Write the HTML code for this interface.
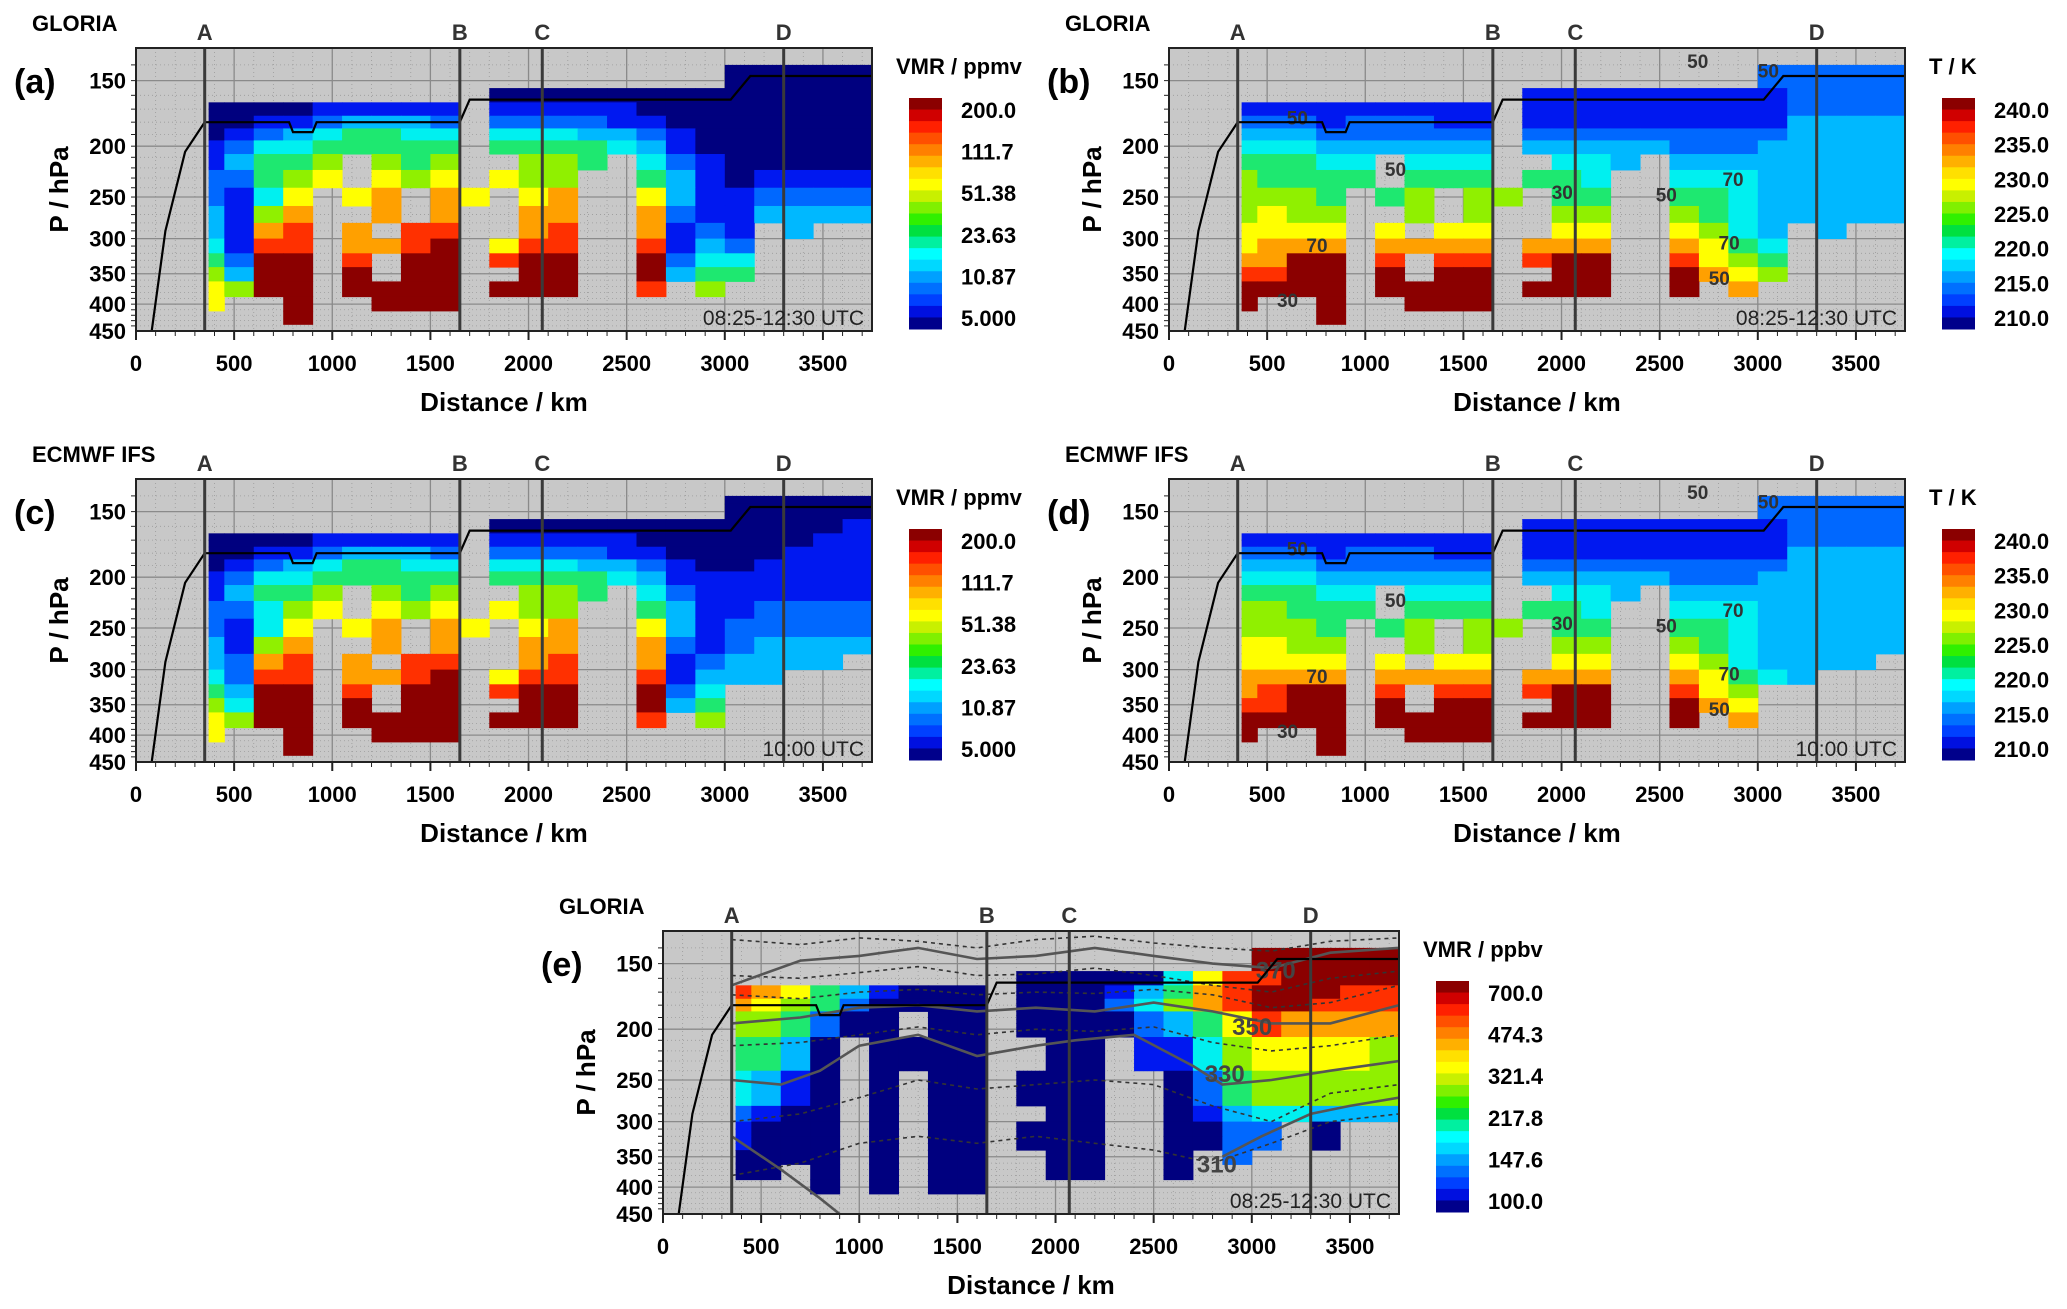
<!DOCTYPE html>
<html><head><meta charset="utf-8">
<style>
html,body{margin:0;padding:0;background:#fff;}
svg{display:block;font-family:"Liberation Sans",Arial,sans-serif;}
</style></head>
<body>
<svg id="fig" width="2067" height="1309" viewBox="0 0 2067 1309" xmlns="http://www.w3.org/2000/svg"></svg>
<script>
// ---------- data ----------
const rowPressTop = [140,145,155,165,175,185,195,207,222,240,260,280,300,320,340,362,387,412];
const rowPressBot = [145,155,165,175,185,195,207,222,240,260,280,300,320,340,362,387,412,437];
const colKm = 150; // bin width of distance columns
const h2oGloria = [
"....................00000",
"....................00000",
"............0000000000000",
"..000011111.1111100000000",
"..001123332.2222110000000",
"..012345544.4443321000000",
"..124455555.5555431000000",
"..13556.656..665.42100000",
"..22567.767.766..53101111",
"..2147.78.87.78..73112222",
"..3168..8.8..88..82113333",
"..3189.8.99..89..8121.3..",
"..4199.889a.799..9132....",
"..52aa.9.aa.9aa..a244....",
"..63aa.a.aa..aa..a355....",
"..76aa.aaaa.aaa..9.6.....",
"..7..a..aaa..............",
".....a..................."];
const h2oModel = [
"....................00000",
"....................00000",
"............0000000000001",
"..000011111.1111100000011",
"..001123332.2222110000111",
"..012345544.4443321001111",
"..124455555.5555431111111",
"..13556.656..665.42111111",
"..22467.767.766..53112222",
"..2147.78.87.78..73122222",
"..3168..8.8..88..82123333",
"..3289.8.99..89..8123333.",
"..4299.889a.799..91333...",
"..53aa.9.aa.9aa..a24.....",
"..64aa.a.aa..aa..a35.....",
"..76aa.aaaa.aaa..9.6.....",
"..7..a..aaa..............",
".....a..................."];
const tGloria = [
"....................22222",
"....................22222",
"............1111111112222",
"..111111111.1111111112222",
"..222122211.1111111113333",
"..333222222.2222222223333",
"..444333333.3333322233333",
"..55544.444..443.33333333",
"..65555.555.554..44433333",
"..6665.56.66.55..55433333",
"..6766..6.6..66..65433333",
"..7777.7.77..77..7643.3..",
"..7888.8888.888..8754....",
"..88aa.9.99.9aa..9765....",
"..99aa.a.aa..aa..a876....",
"..aaaa.aaaa.aaa..a.8.....",
"..a..a..aaa..............",
".....a..................."];
const tModel = [
"....................22222",
"....................22222",
"............1111111112222",
"..111111111.1111111112222",
"..222122211.1111111113333",
"..333222222.2222222223333",
"..444333333.3333322233333",
"..55544.444..443.33333333",
"..66555.555.554..44433333",
"..6665.56.66.55..55433333",
"..7766..6.6..66..65433333",
"..7777.7.77..77..7643333.",
"..8888.8888.888..87543...",
"..89aa.9.99.9aa..976.....",
"..99aa.a.aa..aa..a87.....",
"..aaaa.aaaa.aaa..a.8.....",
"..a..a..aaa..............",
".....a..................."];
const o3Gloria = [
"....................aaaaa",
"....................aaaaa",
"............000004799aaaa",
"..987531000.00013589aaa99",
"..876520000.00024689aa999",
"..665200.00.0000235798888",
"..665200.00.0000235798888",
"..5530.0000..00.114677776",
"..5530.0000..00.114677776",
"..4310.0.00.000..02566666",
"..4310.0.00.000..02566666",
"..2100.0.00..00..01344333",
"..1000.0.00.000..0022.0..",
"..1000.0.00.000..0022.0..",
"..0000.0.00..00..0.2.....",
"..00.0.0.00..00..0.......",
".....0.0.00..............",
"........................."];
const flightKm = [80,150,250,350,780,800,900,920,1650,1700,3030,3130,3750];
const flightP  = [450,290,205,180,180,188,188,180,180,163,163,147,147];
const markerNames = ["A","B","C","D"];
const markerKm = [350,1650,2070,3300];
const xTicks = [0,500,1000,1500,2000,2500,3000,3500];
const yTicks = [150,200,250,300,350,400,450];
const cbarH2O = ["200.0","111.7","51.38","23.63","10.87","5.000"];
const cbarT = ["240.0","235.0","230.0","225.0","220.0","215.0","210.0"];
const cbarO3 = ["700.0","474.3","321.4","217.8","147.6","100.0"];
const thKm1 = [350,700,1000,1300,1600,1900,2200,2500,2800,3100,3400,3750];
const thP1  = [165,148,145,140,147,145,140,145,150,153,143,140];
const thP2  = [195,190,182,180,185,182,185,178,185,195,195,180];
const thKm3 = [350,600,800,1000,1300,1600,1900,2100,2400,2700,2850,3100,3400,3750];
const thP3  = [250,255,240,215,205,225,215,210,205,235,255,250,240,230];
const thKm4 = [2850,3050,3300,3500,3750];
const thP4  = [350,320,290,280,270];
const thKm5 = [350,600,800,900];
const thP5  = [320,370,420,450];
const dashP = [[135,138,134,136,140,135,133,137,140,142,136,134],
               [158,160,156,152,158,157,153,158,165,170,160,155],
               [172,175,170,168,172,170,171,168,172,182,178,165],
               [215,212,205,198,205,200,202,198,212,220,215,205],
               [300,290,270,250,260,255,250,255,280,300,265,255],
               [380,360,330,320,330,320,330,340,360,330,300,290]];

const levelColors = ['#00007f','#0018f0','#0068ff','#00b8ff','#00f0f0','#1ee870','#90f000','#ffff00','#ffa000','#ff3000','#8b0000'];
const jetStops = ['#8b0000','#d00000','#ff2000','#ff5000','#ff8000','#ffb000','#ffe000','#ffff00','#c8f000','#80f000','#30f000','#00e040','#00f0a0','#00ffff','#00d8ff','#00a0ff','#0070ff','#0040ff','#0010e0','#00008b'];

// ---------- drawing ----------
const NS = "http://www.w3.org/2000/svg";
const svg = document.getElementById('fig');
function mk(tag, attrs, parent){
  const e = document.createElementNS(NS, tag);
  for (const k in attrs) e.setAttribute(k, attrs[k]);
  (parent||svg).appendChild(e);
  return e;
}
const PW = 736, PH = 283, PMIN = 130, PMAX = 450, KMAX = 3750;

function panel(L, T, grid, letter, source, cbTitle, cbLabels, timeText, contours){
  const g = mk('g', {});
  
  
  const xs = d => L + d / KMAX * PW;
  const ys = p => T + Math.log(p / PMIN) / Math.log(PMAX / PMIN) * PH;
  const bg = mk('rect', {x:L, y:T, width:PW, height:PH, fill:'#c8c8c8'}, g);
  
  
  for (let d = 100; d < KMAX; d += 100) mk('line', {x1:xs(d), x2:xs(d), y1:T, y2:T+PH, stroke:'#9a9a9a', 'stroke-width':0.8, 'stroke-dasharray':'1,3'}, g);
  for (let p = 140; p < PMAX; p += 10) mk('line', {x1:L, x2:L+PW, y1:ys(p), y2:ys(p), stroke:'#9a9a9a', 'stroke-width':0.8, 'stroke-dasharray':'1,3'}, g);
  for (const p of yTicks) mk('line', {x1:L, x2:L+PW, y1:ys(p), y2:ys(p), stroke:'#8a8a8a', 'stroke-width':1.3}, g);
  for (const d of xTicks) if (d>0) mk('line', {x1:xs(d), x2:xs(d), y1:T, y2:T+PH, stroke:'#8a8a8a', 'stroke-width':1.3}, g);
  const cells = mk('g', {}, g);
  
  
  grid.forEach((row, r) => {
    for (let c = 0; c < row.length; c++) {
      const ch = row[c];
      if (ch === '.') continue;
      const lv = parseInt(ch, 16);
      const x0 = xs(Math.max(c * colKm, 370)), x1 = xs((c + 1) * colKm);
      const rc = mk('rect', {x:x0, y:ys(rowPressTop[r]), width:x1 - x0 + 0.5, height:ys(rowPressBot[r]) - ys(rowPressTop[r]) + 0.5, fill:levelColors[lv]}, cells);
      
      
    }
  });
  if (contours) contours(g, xs, ys);
  let dstr = flightKm.map((k, i) => (i ? 'L' : 'M') + xs(k).toFixed(1) + ',' + ys(flightP[i]).toFixed(1)).join(' ');
  const fl = mk('path', {d:dstr, fill:'none', stroke:'#000', 'stroke-width':2.2}, g);
  
  
  markerKm.forEach((k, i) => {
    const ln = mk('line', {x1:xs(k), x2:xs(k), y1:T, y2:T+PH, stroke:'#3a3a3a', 'stroke-width':3}, g);
    
    
    const t = mk('text', {x:xs(k), y:T-8, 'text-anchor':'middle', 'font-size':22, 'font-weight':'bold', fill:'#333'}, g);
    t.textContent = markerNames[i];
    
    
  });
  mk('rect', {x:L, y:T, width:PW, height:PH, fill:'none', stroke:'#222', 'stroke-width':2}, g);
  for (const d of xTicks) {
    mk('line', {x1:xs(d), x2:xs(d), y1:T+PH, y2:T+PH+9, stroke:'#222', 'stroke-width':2}, g);
    const t = mk('text', {x:xs(d), y:T+PH+40, 'text-anchor':'middle', 'font-size':22, 'font-weight':'bold'}, g);
    t.textContent = d;
    
    
  }
  for (let d = 100; d < KMAX; d += 100) mk('line', {x1:xs(d), x2:xs(d), y1:T+PH, y2:T+PH+5, stroke:'#222', 'stroke-width':1}, g);
  for (let p = 140; p < PMAX; p += 10) mk('line', {x1:L-5, x2:L, y1:ys(p), y2:ys(p), stroke:'#222', 'stroke-width':1}, g);
  for (const p of yTicks) {
    const t = mk('text', {x:L-10, y:ys(p)+8, 'text-anchor':'end', 'font-size':22, 'font-weight':'bold'}, g);
    t.textContent = p;
    
    
  }
  const xt = mk('text', {x:L+PW/2, y:T+PH+80, 'text-anchor':'middle', 'font-size':26, 'font-weight':'bold'}, g);
  xt.textContent = 'Distance / km';
  
  
  const yt = mk('text', {x:0, y:0, 'text-anchor':'middle', 'font-size':26, 'font-weight':'bold', transform:`translate(${L-68},${T+PH/2}) rotate(-90)`}, g);
  yt.textContent = 'P / hPa';
  
  
  const st = mk('text', {x:L-104, y:T-17, 'font-size':22, 'font-weight':'bold'}, g);
  st.textContent = source;
  
  
  const pl = mk('text', {x:L-122, y:T+45, 'font-size':34, 'font-weight':'bold'}, g);
  pl.textContent = '(' + letter + ')';
  
  
  const tt = mk('text', {x:L+PW-8, y:T+PH-6, 'text-anchor':'end', 'font-size':21, fill:'#222'}, g);
  tt.textContent = timeText;
  
  
  const cx = L + 773, cy0 = T + 50, cy1 = T + 281, cw = 33;
  const cb = mk('g', {}, g);
  
  
  const n = jetStops.length, bh = (cy1 - cy0) / n;
  jetStops.forEach((c, i) => mk('rect', {x:cx, y:cy0 + i*bh, width:cw, height:bh + 0.5, fill:c}, cb));
  const ct = mk('text', {x:cx - 13, y:T+26, 'font-size':22, 'font-weight':'bold'}, g);
  ct.textContent = cbTitle;
  
  
  const ly0 = T + 62, ly1 = T + 270;
  cbLabels.forEach((s, i) => {
    const t = mk('text', {x:cx + 52, y:ly0 + i*(ly1 - ly0)/(cbLabels.length - 1) + 8, 'font-size':22, 'font-weight':'bold'}, g);
    t.textContent = s;
    
    
  });
}

function tempContours(g, xs, ys){
  const labs = [[600,182,'50'],[1100,228,'50'],[1950,252,'30'],[2480,255,'50'],[2820,238,'70'],[700,318,'70'],[2800,315,'70'],[2750,368,'50'],[550,405,'30'],[2640,142,'50'],[3000,148,'50']];
  for (const [k, p, s] of labs) {
    const t = mk('text', {x:xs(k), y:ys(p), 'font-size':19, 'font-weight':'bold', fill:'#333'}, g);
    t.textContent = s;
    
    
  }
}
function thetaContours(g, xs, ys){
  const line = (ks, ps, attrs, name) => {
    const d = ks.map((k, i) => (i ? 'L' : 'M') + xs(k).toFixed(1) + ',' + ys(ps[i]).toFixed(1)).join(' ');
    const p = mk('path', Object.assign({d:d, fill:'none'}, attrs), g);
    
    
  };
  dashP.forEach(ps => line(thKm1, ps, {stroke:'#333', 'stroke-width':1.6, 'stroke-dasharray':'4,4'}, 'theta-dashed-contour'));
  const solid = {stroke:'#555', 'stroke-width':2.6};
  line(thKm1, thP1, solid, 'theta-contour');
  line(thKm1, thP2, solid, 'theta-contour');
  line(thKm3, thP3, solid, 'theta-contour');
  line(thKm4, thP4, solid, 'theta-contour');
  line(thKm5, thP5, solid, 'theta-contour');
  const labs = [[2900,205,'350'],[2760,252,'330'],[2720,375,'310'],[3020,160,'370']];
  for (const [k, p, s] of labs) {
    const t = mk('text', {x:xs(k), y:ys(p), 'font-size':24, 'font-weight':'bold', fill:'#444'}, g);
    t.textContent = s;
    
    
  }
}

panel(136, 48, h2oGloria, 'a', 'GLORIA', 'VMR / ppmv', cbarH2O, '08:25-12:30 UTC');
panel(1169, 48, tGloria, 'b', 'GLORIA', 'T / K', cbarT, '08:25-12:30 UTC', tempContours);
panel(136, 479, h2oModel, 'c', 'ECMWF IFS', 'VMR / ppmv', cbarH2O, '10:00 UTC');
panel(1169, 479, tModel, 'd', 'ECMWF IFS', 'T / K', cbarT, '10:00 UTC', tempContours);
panel(663, 931, o3Gloria, 'e', 'GLORIA', 'VMR / ppbv', cbarO3, '08:25-12:30 UTC', thetaContours);
</script>
</body></html>
